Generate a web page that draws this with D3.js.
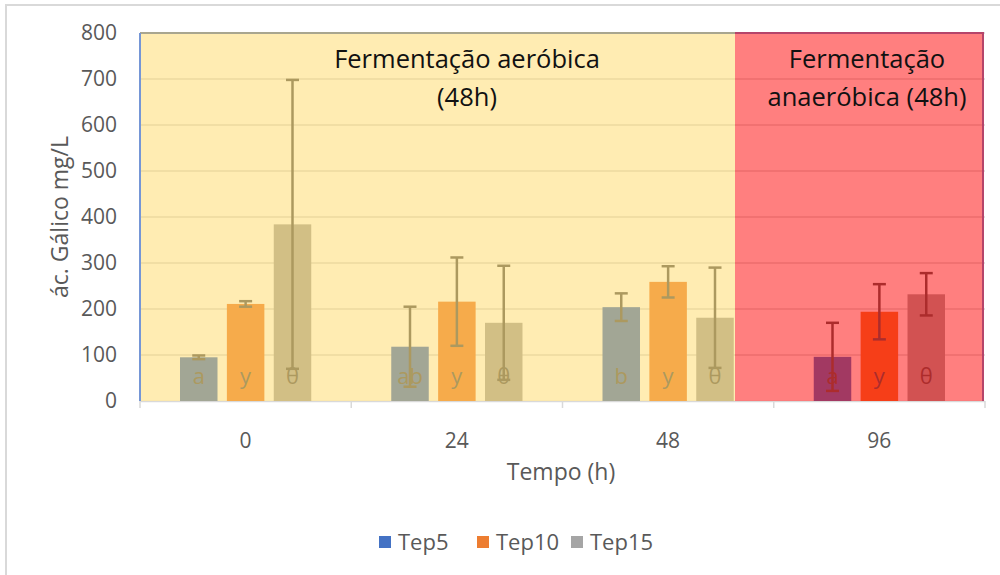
<!DOCTYPE html>
<html>
<head>
<meta charset="utf-8">
<script src="https://cdn.jsdelivr.net/npm/d3@7"></script>
<style>
  body { margin: 0; background: #fff; }
  svg { display: block; }
</style>
</head>
<body>
<div id="chart"></div>
<script>

// 1. Data

const times = ["0", "24", "48", "96"];
const seriesNames = ["Tep5", "Tep10", "Tep15"];
const legendColors = ["#4472C4", "#ED7D31", "#A5A5A5"];

const tep5Mean = [95, 118, 204, 96];
const tep5Sd = [4, 87, 30, 74];
const tep10Mean = [211, 216, 259, 194];
const tep10Sd = [6, 96, 34, 60];
const tep15Mean = [384, 170, 181, 232];
const tep15Sd = [314, 124, 109, 46];

const tep5Letters = ["a", "ab", "b", "a"];
const tep10Letters = ["y", "y", "y", "y"];
const tep15Letters = ["θ", "θ", "θ", "θ"];

const yTicks = [0, 100, 200, 300, 400, 500, 600, 700, 800];

const aerobicLabel = ["Fermentação aeróbica", "(48h)"];
const anaerobicLabel = ["Fermentação", "anaeróbica (48h)"];

const rows = [];
times.forEach((t, i) => {
    rows.push({time: t, series: "Tep5", mean: tep5Mean[i], sd: tep5Sd[i], letter: tep5Letters[i]});
    rows.push({time: t, series: "Tep10", mean: tep10Mean[i], sd: tep10Sd[i], letter: tep10Letters[i]});
    rows.push({time: t, series: "Tep15", mean: tep15Mean[i], sd: tep15Sd[i], letter: tep15Letters[i]});
});

// 2. Dimensions

const width = 1000;
const height = 575;
const plot = {left: 140, right: 985, top: 33, bottom: 401};
const font = "'Open Sans', Lato, sans-serif";

const svg = d3.select("#chart")
    .append("svg")
        .attr("width", width)
        .attr("height", height)
        .style("font-family", font);

// chart frame (only top/left visible in the picture)
svg.append("rect")
    .attr("x", 6)
    .attr("y", 5)
    .attr("width", 1100)
    .attr("height", 700)
    .attr("fill", "#fff")
    .attr("stroke", "#D9D9D9")
    .attr("stroke-width", 2);

// 3. Scales

const x0 = d3.scaleBand()
    .domain(times)
    .range([plot.left, plot.right])
    .padding(0);

const x1 = d3.scaleBand()
    .domain(seriesNames)
    .range([40, x0.bandwidth() - 40])
    .paddingInner(0.2);

const y = d3.scaleLinear()
    .domain([0, 800])
    .range([plot.bottom, plot.top]);

const color = d3.scaleOrdinal()
    .domain(seriesNames)
    .range(legendColors);

// 4. Peripherals

svg.append("g")
    .selectAll("line")
    .data(yTicks.filter(d => d > 0))
    .join("line")
        .attr("x1", plot.left)
        .attr("x2", plot.right)
        .attr("y1", d => y(d))
        .attr("y2", d => y(d))
        .attr("stroke", "#D9D9D9")
        .attr("stroke-width", 1.5);

svg.append("g")
    .selectAll("text")
    .data(yTicks)
    .join("text")
        .attr("x", 117)
        .attr("y", d => y(d))
        .attr("dy", "0.35em")
        .attr("text-anchor", "end")
        .attr("font-size", 21)
        .attr("fill", "#595959")
        .text(d => d);

svg.append("text")
    .attr("transform", `translate(60, 217) rotate(-90)`)
    .attr("text-anchor", "middle")
    .attr("dy", "0.35em")
    .attr("font-size", 23)
    .attr("fill", "#595959")
    .text("ác. Gálico mg/L");

// x axis line + ticks at band edges
svg.append("line")
    .attr("x1", plot.left)
    .attr("x2", plot.right)
    .attr("y1", plot.bottom + 0.5)
    .attr("y2", plot.bottom + 0.5)
    .attr("stroke", "#D9D9D9")
    .attr("stroke-width", 1.5);

const edges = times.map(t => x0(t)).concat([plot.right]);
svg.append("g")
    .selectAll("line")
    .data(edges)
    .join("line")
        .attr("x1", d => d)
        .attr("x2", d => d)
        .attr("y1", plot.bottom)
        .attr("y2", plot.bottom + 7)
        .attr("stroke", "#D9D9D9")
        .attr("stroke-width", 1.5);

svg.append("g")
    .selectAll("text")
    .data(times)
    .join("text")
        .attr("x", d => x0(d) + x0.bandwidth() / 2)
        .attr("y", 441)
        .attr("dy", "0.35em")
        .attr("text-anchor", "middle")
        .attr("font-size", 21)
        .attr("fill", "#595959")
        .text(d => d);

svg.append("text")
    .attr("x", 561)
    .attr("y", 472)
    .attr("dy", "0.35em")
    .attr("text-anchor", "middle")
    .attr("font-size", 23)
    .attr("fill", "#595959")
    .text("Tempo (h)");

// 5. Bars, error bars, letters

const barX = d => x0(d.time) + x1(d.series);
const cx = d => barX(d) + x1.bandwidth() / 2;

const marks = svg.append("g");

marks.selectAll("rect")
    .data(rows)
    .join("rect")
        .attr("x", barX)
        .attr("y", d => y(d.mean))
        .attr("width", x1.bandwidth())
        .attr("height", d => y(0) - y(d.mean))
        .attr("fill", d => color(d.series));

marks.selectAll("text")
    .data(rows)
    .join("text")
        .attr("x", cx)
        .attr("y", 384)
        .attr("text-anchor", "middle")
        .attr("font-size", 22)
        .attr("fill", "#595959")
        .text(d => d.letter);

const errs = marks.append("g")
    .attr("stroke", "#595959")
    .attr("stroke-width", 2.5);

errs.selectAll("line.v")
    .data(rows)
    .join("line")
        .attr("class", "v")
        .attr("x1", cx)
        .attr("x2", cx)
        .attr("y1", d => y(d.mean + d.sd))
        .attr("y2", d => y(d.mean - d.sd));

errs.selectAll("line.top")
    .data(rows)
    .join("line")
        .attr("class", "top")
        .attr("x1", d => cx(d) - 6.5)
        .attr("x2", d => cx(d) + 6.5)
        .attr("y1", d => y(d.mean + d.sd))
        .attr("y2", d => y(d.mean + d.sd));

errs.selectAll("line.bot")
    .data(rows)
    .join("line")
        .attr("class", "bot")
        .attr("x1", d => cx(d) - 6.5)
        .attr("x2", d => cx(d) + 6.5)
        .attr("y1", d => y(d.mean - d.sd))
        .attr("y2", d => y(d.mean - d.sd));

// 6. Semi-transparent overlays

const split = 735;

svg.append("rect")
    .attr("x", plot.left)
    .attr("y", plot.top)
    .attr("width", split - plot.left)
    .attr("height", plot.bottom - plot.top)
    .attr("fill", "#FFD966")
    .attr("opacity", 0.5);

svg.append("rect")
    .attr("x", split)
    .attr("y", plot.top)
    .attr("width", 983 - split)
    .attr("height", plot.bottom - plot.top)
    .attr("fill", "#FF0000")
    .attr("opacity", 0.5);

svg.append("line")
    .attr("x1", plot.left).attr("x2", split)
    .attr("y1", plot.top).attr("y2", plot.top)
    .attr("stroke", "#A9A68F").attr("stroke-width", 2);

svg.append("line")
    .attr("x1", plot.left).attr("x2", plot.left)
    .attr("y1", plot.top).attr("y2", plot.bottom)
    .attr("stroke", "#7596D6").attr("stroke-width", 2);

svg.append("polyline")
    .attr("points", `${split},${plot.top} 983,${plot.top} 983,${plot.bottom}`)
    .attr("fill", "none")
    .attr("stroke", "#B5456A").attr("stroke-width", 2);

// annotations
svg.append("g")
    .selectAll("text")
    .data(aerobicLabel)
    .join("text")
        .attr("x", 467)
        .attr("y", (d, i) => 59 + i * 38)
        .attr("dy", "0.35em")
        .attr("text-anchor", "middle")
        .attr("font-size", 25.5)
        .attr("fill", "#111")
        .text(d => d);

svg.append("g")
    .selectAll("text")
    .data(anaerobicLabel)
    .join("text")
        .attr("x", 867)
        .attr("y", (d, i) => 59 + i * 38)
        .attr("dy", "0.35em")
        .attr("text-anchor", "middle")
        .attr("font-size", 25.5)
        .attr("fill", "#111")
        .text(d => d);

// 7. Legend

const legendX = [379, 477, 571];
const legend = svg.append("g")
    .selectAll("g")
    .data(seriesNames)
    .join("g")
        .attr("transform", (d, i) => `translate(${legendX[i]}, 542)`);

legend.append("rect")
    .attr("x", 0)
    .attr("y", -6)
    .attr("width", 12)
    .attr("height", 12)
    .attr("fill", d => color(d));

legend.append("text")
    .attr("x", 19)
    .attr("dy", "0.35em")
    .attr("font-size", 22)
    .attr("fill", "#595959")
    .text(d => d);

</script>
</body>
</html>
